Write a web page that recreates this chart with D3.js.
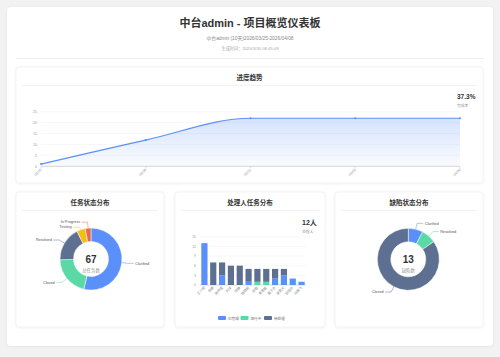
<!DOCTYPE html>
<html><head><meta charset="utf-8">
<script src="https://cdn.jsdelivr.net/npm/d3@7"></script>
<style>
html,body{margin:0;padding:0;background:#f2f2f2;}
svg{display:block;font-family:"Liberation Sans","Noto Sans CJK SC",sans-serif;}
</style></head>
<body>
<svg id="c" width="500" height="357"></svg>
<script>
// ---- data ----
const trendDates = ["03/25","03/28","03/31","04/03","04/06"];
const trendValues = [1, 12, 22, 22, 22];
const trendTicks = [0,5,10,15,20,25];
const completionRate = "37.3%";

const taskStatus = ["Clarified","Closed","Resolved","Testing","In Progress"];
const taskCounts = [36, 14, 12, 3, 2];

const assignees = ["王小明","李娜","张伟强","刘洋","陈静","杨晓帆","赵磊","黄思敏","周子杰","吴昊天","徐丽华","孙鹏飞"];
const doneCounts    = [13, 0, 3, 0, 0, 1, 0, 0, 2, 3, 2, 1];
const doingCounts   = [0, 0, 0, 0, 0, 0, 1, 1, 0, 0, 0, 0];
const todoCounts    = [0, 7, 4, 6, 6, 4, 4, 4, 3, 2, 0, 0];
const barSeries = ["已完成","进行中","待处理"];
const barTicks = [0,3,6,9,12,15];

const bugStatus = ["Clarified","Resolved","Closed"];
const bugCounts = [1, 1, 11];

const palette = ["#5B8FF9","#5AD8A6","#5D7092","#F6BD16","#E8684A"];

// ---- layout ----
const svg = d3.select("#c");
const defs = svg.append("defs");
const sh = defs.append("filter").attr("id","sh").attr("x","-5%").attr("y","-5%").attr("width","110%").attr("height","110%");
sh.append("feDropShadow").attr("dx",0).attr("dy",0.5).attr("stdDeviation",1.2).attr("flood-color","#000").attr("flood-opacity",0.08);

svg.append("rect").attr("x",7).attr("y",7).attr("width",486).attr("height",339).attr("rx",4)
  .attr("fill","#fff").attr("filter","url(#sh)");

svg.append("text").attr("x",250).attr("y",27).attr("text-anchor","middle")
  .attr("font-size",11).attr("font-weight","bold").attr("fill","#333").text("中台admin - 项目概览仪表板");
svg.append("text").attr("x",250).attr("y",40).attr("text-anchor","middle")
  .attr("font-size",4.8).attr("fill","#888").text("中台admin (10天)2026/03/25-2026/04/08");
svg.append("text").attr("x",250).attr("y",49.5).attr("text-anchor","middle")
  .attr("font-size",4.2).attr("fill","#aaa").text("生成时间：2026/3/30 08:45:09");
svg.append("line").attr("x1",16).attr("x2",484).attr("y1",58.5).attr("y2",58.5).attr("stroke","#eee").attr("stroke-width",1);

function card(x,y,w,h,title){
  const g = svg.append("g");
  g.append("rect").attr("x",x).attr("y",y).attr("width",w).attr("height",h).attr("rx",3)
    .attr("fill","#fff").attr("stroke","#ececec").attr("stroke-width",0.6).attr("filter","url(#sh)");
  g.append("text").attr("x",x+w/2).attr("y",y+13).attr("text-anchor","middle")
    .attr("font-size",6.5).attr("font-weight","bold").attr("fill","#333").text(title);
  g.append("line").attr("x1",x+6).attr("x2",x+w-6).attr("y1",y+18.5).attr("y2",y+18.5).attr("stroke","#f0f0f0").attr("stroke-width",0.8);
  return g;
}

// ---- trend card ----
const tc = card(16,67,467,116,"进度趋势");
const xL = d3.scalePoint().domain(trendDates).range([41,460]);
const yL = d3.scaleLinear().domain([0,25]).range([166.3,111.7]);
trendTicks.forEach(t=>{
  tc.append("line").attr("x1",41).attr("x2",460).attr("y1",yL(t)).attr("y2",yL(t))
    .attr("stroke", t===0?"#ccc":"#f2f2f2").attr("stroke-width",t===0?0.8:0.6);
  tc.append("text").attr("x",37).attr("y",yL(t)+1.2).attr("text-anchor","end")
    .attr("font-size",3.6).attr("fill","#999").text(t);
});
trendDates.forEach(d=>{
  tc.append("line").attr("x1",xL(d)).attr("x2",xL(d)).attr("y1",166.3).attr("y2",168.5).attr("stroke","#ccc").attr("stroke-width",0.6);
  tc.append("text").attr("transform",`translate(${xL(d)+1},${170}) rotate(-45)`).attr("text-anchor","end")
    .attr("font-size",3.6).attr("fill","#999").text(d);
});
const grad = defs.append("linearGradient").attr("id","ag").attr("x1",0).attr("x2",0).attr("y1",0).attr("y2",1);
grad.append("stop").attr("offset","0%").attr("stop-color","#5B8FF9").attr("stop-opacity",0.25);
grad.append("stop").attr("offset","100%").attr("stop-color","#5B8FF9").attr("stop-opacity",0.03);
const pts = trendDates.map((d,i)=>[d,trendValues[i]]);
tc.append("path").datum(pts).attr("fill","url(#ag)")
  .attr("d", d3.area().x(p=>xL(p[0])).y0(yL(0)).y1(p=>yL(p[1])).curve(d3.curveMonotoneX));
tc.append("path").datum(pts).attr("fill","none").attr("stroke","#5B8FF9").attr("stroke-width",1.1)
  .attr("d", d3.line().x(p=>xL(p[0])).y(p=>yL(p[1])).curve(d3.curveMonotoneX));
tc.selectAll("circle.p").data(pts).join("circle").attr("cx",p=>xL(p[0])).attr("cy",p=>yL(p[1]))
  .attr("r",1).attr("fill","#5B8FF9");
tc.append("text").attr("x",457).attr("y",99).attr("font-size",6.5).attr("font-weight","bold").attr("fill","#333").text(completionRate);
tc.append("text").attr("x",457).attr("y",107).attr("font-size",3.8).attr("fill","#999").text("完成率");

// ---- donut helper ----
function donut(g, cx, cy, names, counts, centerVal, centerLabel){
  const pie = d3.pie().sort(null).value(d=>d)(counts);
  const arc = d3.arc().innerRadius(17.5).outerRadius(31);
  const gg = g.append("g").attr("transform",`translate(${cx},${cy})`);
  gg.selectAll("path").data(pie).join("path").attr("d",arc)
    .attr("fill",(d,i)=>palette[i]).attr("stroke","#fff").attr("stroke-width",0.5);
  const labs = pie.map((d,i)=>{
    const a = (d.startAngle+d.endAngle)/2;
    const p0 = [Math.sin(a)*31, -Math.cos(a)*31];
    const p1 = [Math.sin(a)*37, -Math.cos(a)*37];
    const right = Math.sin(a) >= 0;
    return {i, a, p0, p1, right, y:p1[1]};
  });
  ["L","R"].forEach(side=>{
    const grp = labs.filter(l=>(side==="R")===l.right).sort((a,b)=>a.y-b.y);
    for(let k=1;k<grp.length;k++){ if(grp[k].y-grp[k-1].y<5) grp[k].y = grp[k-1].y+5; }
  });
  labs.forEach(l=>{
    const dir = l.right?1:-1;
    const p2 = [l.p1[0]+dir*6, l.y];
    gg.append("polyline").attr("points",[l.p0,[l.p1[0],l.y],p2].map(p=>p.join(",")).join(" "))
      .attr("fill","none").attr("stroke",palette[l.i]).attr("stroke-width",0.5);
    gg.append("text").attr("x",p2[0]+dir*1.5).attr("y",l.y+1.3).attr("text-anchor",l.right?"start":"end")
      .attr("font-size",3.8).attr("fill","#555").text(names[l.i]);
  });
  gg.append("text").attr("x",0).attr("y",3.5).attr("text-anchor","middle").attr("font-size",10)
    .attr("font-weight","bold").attr("fill","#333").text(centerVal);
  gg.append("text").attr("x",0).attr("y",13).attr("text-anchor","middle").attr("font-size",4.4)
    .attr("fill","#999").text(centerLabel);
}

// ---- task status card ----
const c1 = card(16,192,148,135,"任务状态分布");
donut(c1, 91, 259, taskStatus, taskCounts, d3.sum(taskCounts), "总任务数");

// ---- assignee bar card ----
const c2 = card(175,192,150,135,"处理人任务分布");
c2.append("text").attr("x",302).attr("y",225).attr("font-size",7).attr("font-weight","bold").attr("fill","#333").text(assignees.length+"人");
c2.append("text").attr("x",302).attr("y",233).attr("font-size",3.8).attr("fill","#999").text("处理人");
const xB = d3.scaleBand().domain(assignees).range([200,306]).paddingInner(0.3).paddingOuter(0.15);
const yB = d3.scaleLinear().domain([0,15]).range([285,236.7]);
barTicks.forEach(t=>{
  c2.append("line").attr("x1",200).attr("x2",306).attr("y1",yB(t)).attr("y2",yB(t))
    .attr("stroke",t===0?"#ccc":"#f2f2f2").attr("stroke-width",t===0?0.7:0.6);
  c2.append("text").attr("x",196).attr("y",yB(t)+1.2).attr("text-anchor","end")
    .attr("font-size",3.4).attr("fill","#999").text(t);
});
const stackData = assignees.map((n,i)=>({name:n, "已完成":doneCounts[i], "进行中":doingCounts[i], "待处理":todoCounts[i]}));
const stacked = d3.stack().keys(barSeries)(stackData);
stacked.forEach((s,si)=>{
  c2.append("g").selectAll("rect").data(s).join("rect")
    .attr("x",d=>xB(d.data.name)).attr("width",xB.bandwidth())
    .attr("y",d=>yB(d[1])).attr("height",d=>yB(d[0])-yB(d[1]))
    .attr("fill",palette[si]);
});
assignees.forEach(n=>{
  c2.append("text").attr("transform",`translate(${xB(n)+xB.bandwidth()/2+1},${288}) rotate(-45)`)
    .attr("text-anchor","end").attr("font-size",3.4).attr("fill","#888").text(n);
});
const legX = [218, 240.5, 264];
barSeries.forEach((s,i)=>{
  c2.append("rect").attr("x",legX[i]).attr("y",316).attr("width",8).attr("height",4).attr("rx",1).attr("fill",palette[i]);
  c2.append("text").attr("x",legX[i]+10).attr("y",319.5).attr("font-size",3.6).attr("fill","#666").text(s);
});

// ---- bug card ----
const c3 = card(335,192,148,135,"缺陷状态分布");
donut(c3, 408.3, 259.3, bugStatus, bugCounts, d3.sum(bugCounts), "缺陷数");
</script>
</body></html>
